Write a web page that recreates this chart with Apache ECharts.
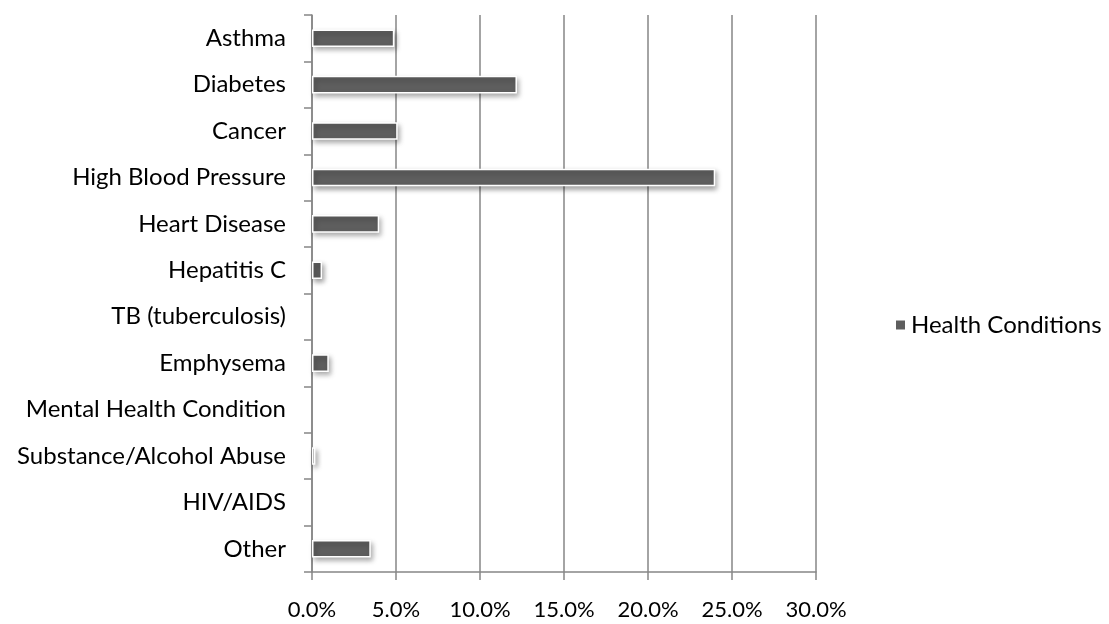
<!DOCTYPE html>
<html>
<head>
<meta charset="utf-8">
<script src="https://cdn.jsdelivr.net/npm/echarts@6/dist/echarts.min.js"></script>
<style>
  html, body { margin: 0; padding: 0; background: #fff; }
  #chart { width: 1109px; height: 624px; }
</style>
</head>
<body>
<div id="chart"></div>
<script>
// Health conditions reported, as a percentage of respondents
const categories = [
  'Asthma', 'Diabetes', 'Cancer', 'High Blood Pressure', 'Heart Disease',
  'Hepatitis C', 'TB (tuberculosis)', 'Emphysema', 'Mental Health Condition',
  'Substance/Alcohol Abuse', 'HIV/AIDS', 'Other'
];
const conditionValues = [4.9, 12.2, 5.1, 24.0, 4.0, 0.6, 0, 1.0, 0, 0.2, 0, 3.5];
const seriesName = 'Health Conditions';
const xTicks = [0, 5, 10, 15, 20, 25, 30];

const FONT = 'Lato, "Open Sans", sans-serif';
const chart = echarts.init(document.getElementById('chart'), null, { renderer: 'canvas' });

// Zero-valued entries get no border or shadow so nothing is drawn for them
const barData = conditionValues.map(v => v === 0
  ? { value: v, itemStyle: { borderWidth: 0, shadowBlur: 0, shadowColor: 'transparent' } }
  : v);

chart.setOption({
  animation: false,
  backgroundColor: '#ffffff',
  grid: { left: 312, right: 293, top: 15, bottom: 52, containLabel: false },
  legend: {
    data: [seriesName],
    left: 889,
    top: 308,
    orient: 'vertical',
    icon: 'rect',
    itemWidth: 11,
    itemHeight: 11,
    itemGap: 6,
    textStyle: { fontFamily: FONT, fontSize: 24, color: '#000' }
  },
  xAxis: {
    type: 'value',
    min: xTicks[0],
    max: xTicks[xTicks.length - 1],
    interval: 5,
    axisLine: { show: true, lineStyle: { color: '#868686', width: 1.5 } },
    axisTick: { show: true, length: 8, lineStyle: { color: '#868686', width: 1.5 } },
    splitLine: { show: true, lineStyle: { color: '#868686', width: 1.5 } },
    axisLabel: {
      margin: 27,
      fontFamily: FONT,
      fontSize: 22,
      color: '#000',
      formatter: v => v.toFixed(1) + '%'
    }
  },
  yAxis: {
    type: 'category',
    data: categories,
    inverse: true,
    axisLine: { show: true, lineStyle: { color: '#868686', width: 1.5 } },
    axisTick: { show: true, length: 8, lineStyle: { color: '#868686', width: 1.5 } },
    axisLabel: {
      margin: 26,
      fontFamily: FONT,
      fontSize: 24,
      color: '#000'
    }
  },
  series: [{
    name: seriesName,
    type: 'bar',
    data: barData,
    barCategoryGap: '62%',
    itemStyle: {
      color: '#5e5e5e',
      borderColor: '#ffffff',
      borderWidth: 1.5,
      shadowColor: 'rgba(0,0,0,0.35)',
      shadowBlur: 5,
      shadowOffsetX: 2,
      shadowOffsetY: 3
    },
    emphasis: { disabled: true }
  }]
});
</script>
</body>
</html>
